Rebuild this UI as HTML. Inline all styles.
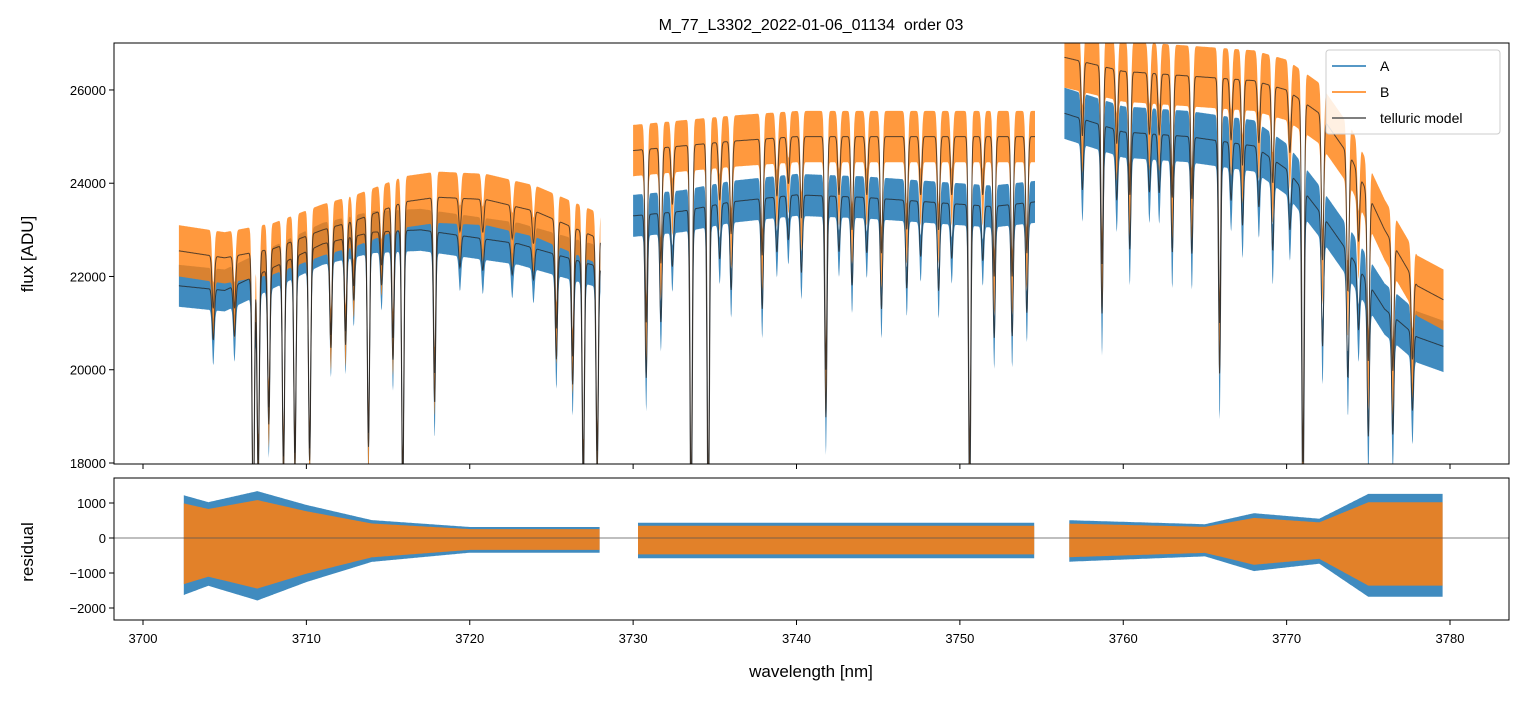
<!DOCTYPE html>
<html><head><meta charset="utf-8"><style>
body{margin:0;background:#fff;font-family:"Liberation Sans",sans-serif}
svg text{font-family:"Liberation Sans","DejaVu Sans",sans-serif;fill:#000}
</style></head><body>
<svg id="c" width="1523" height="696" xmlns="http://www.w3.org/2000/svg">
<defs>
<clipPath id="ct"><rect x="114" y="43" width="1395" height="421"/></clipPath>
<clipPath id="cb"><rect x="114" y="478" width="1395" height="142"/></clipPath>
</defs>
<rect width="1523" height="696" fill="#fff"/>
<text x="811" y="30" font-size="16" text-anchor="middle" style="white-space:pre">M_77_L3302_2022-01-06_01134  order 03</text>
<g id="topg" clip-path="url(#ct)"></g>
<g id="botg" clip-path="url(#cb)"></g>
<rect x="114" y="43" width="1395" height="421" fill="none" stroke="#000" stroke-width="1"/>
<rect x="114" y="478" width="1395" height="142" fill="none" stroke="#000" stroke-width="1"/>
<g id="ticks"></g>
<text x="811" y="677" font-size="17" text-anchor="middle">wavelength [nm]</text>
<text transform="translate(33,254) rotate(-90)" font-size="17" text-anchor="middle">flux [ADU]</text>
<text transform="translate(33,552) rotate(-90)" font-size="17" text-anchor="middle">residual</text>
<g id="legend">
<rect x="1326" y="50" width="174" height="84" rx="3" fill="#fff" fill-opacity="0.85" stroke="#ccc"/>
<line x1="1332" y1="66" x2="1366" y2="66" stroke="#1f77b4" stroke-width="1.5"/>
<text x="1380" y="71" font-size="14">A</text>
<line x1="1332" y1="92" x2="1366" y2="92" stroke="#ff7f0e" stroke-width="1.5"/>
<text x="1380" y="97" font-size="14">B</text>
<line x1="1332" y1="118" x2="1366" y2="118" stroke="#555" stroke-width="1.5"/>
<text x="1380" y="123" font-size="14">telluric model</text>
</g>
</svg>
<script>
const segments=[[3702.2,3728.0],[3730.0,3754.6],[3756.4,3779.6]];
const contBw=[[3702.2,3705,3708,3711,3713,3716,3718,3721,3724,3726,3728],[3730,3733,3736,3740,3744,3748,3752,3754.6],[3756.4,3760,3764,3768,3770,3772,3774,3776,3778,3779.6]];
const contBv=[[22550,22400,22600,23000,23200,23600,23700,23650,23400,23100,22800],[24700,24800,24900,25000,25000,25000,25000,25000],[26700,26400,26300,26200,26000,25500,24500,23000,21800,21500]];
const contAw=[[3702.2,3705,3708,3711,3714,3717,3720,3723,3726,3728],[3730,3733,3736,3740,3744,3748,3752,3754.6],[3756.4,3760,3764,3768,3770,3772,3774,3776,3778,3779.6]];
const contAv=[[21800,21700,22200,22700,22950,23000,22850,22700,22400,22200],[23300,23400,23600,23750,23700,23600,23500,23600],[25500,25100,25000,24800,24300,23400,22400,21300,20700,20500]];
const lineCenters=[3706.75,3707.05,3707.7,3708.6,3709.3,3710.2,3711.5,3712.4,3713.8,3715.3,3715.9,3717.85,3725.3,3726.3,3726.95,3727.8,
3730.8,3731.7,3733.55,3734.6,3736.0,3737.9,3740.3,3741.8,3743.4,3745.2,3746.75,3748.7,3750.6,3752.1,3753.2,3754.1,
3758.7,3760.4,3763.0,3764.2,3765.9,3767.3,3769.15,3771.0,3772.2,3773.75,3775.0,3776.5,3777.7,
3704.3,3705.6,3712.9,3714.6,3719.4,3720.8,3722.6,3723.9,3732.4,3735.3,3738.8,3739.5,3742.6,3744.3,3747.6,3749.5,3751.4,3757.5,3759.6,3761.6,3762.2,3766.6,3768.3,3770.2,3774.4];
const lineDepths=[0.25,0.2,0.15,0.2,0.2,0.2,0.1,0.1,0.2,0.12,0.25,0.16,0.1,0.12,0.22,0.2,
0.15,0.1,0.3,0.3,0.08,0.1,0.07,0.2,0.08,0.1,0.08,0.08,0.28,0.12,0.12,0.1,
0.16,0.1,0.1,0.1,0.2,0.07,0.08,0.3,0.12,0.12,0.15,0.12,0.08,
0.05,0.05,0.06,0.05,0.03,0.03,0.03,0.03,0.05,0.05,0.05,0.04,0.05,0.05,0.05,0.05,0.05,0.06,0.06,0.05,0.05,0.05,0.05,0.05,0.06];
const ampA=[450,450,550];
const ampB=[550,550,650];
const resW=[[3702.2,3704,3707,3710,3714,3720,3728],[3730,3742,3754.6],[3756.4,3765,3768,3772,3775,3779.6]];
const resAmp=[[1600,1300,1700,1200,650,400,400],[550,550,550],[650,500,900,700,1600,1600]];
const xTicks=[3700,3710,3720,3730,3740,3750,3760,3770,3780];
const yTicks=[18000,20000,22000,24000,26000];
const rTicks=[-2000,-1000,0,1000];

const X=w=>143+(w-3700)*16.3375;
const Y=v=>463-(v-18000)*0.04663;
const R=v=>538-v*0.035;
const NS='http://www.w3.org/2000/svg';
function interp(ws,vs,w){if(w<=ws[0])return vs[0];for(let i=1;i<ws.length;i++){if(w<=ws[i]){const t=(w-ws[i-1])/(ws[i]-ws[i-1]);return vs[i-1]+t*(vs[i]-vs[i-1]);}}return vs[vs.length-1];}
function fac(w){let f=1;for(let i=0;i<lineCenters.length;i++){const d=(w-lineCenters[i])/0.07;if(Math.abs(d)<6)f-=lineDepths[i]*Math.exp(-d*d/2);}return f;}
function mk(tag,attrs,parent){const e=document.createElementNS(NS,tag);for(const k in attrs)e.setAttribute(k,attrs[k]);parent.appendChild(e);return e;}
const topG=document.getElementById('topg'),botG=document.getElementById('botg'),tk=document.getElementById('ticks');
function band(parent,s,contW,contV,amp,color,op,name){
 const [a,b]=segments[s];const up=[],lo=[];
 for(let w=a;w<=b;w+=0.02){const f=fac(w);const m=interp(contW[s],contV[s],w)*f;up.push(X(w).toFixed(1)+','+Y(m+amp).toFixed(1));lo.push(X(w).toFixed(1)+','+Y(m-amp*(1+(1-f)*4)).toFixed(1));}
 const p=mk('polygon',{points:up.concat(lo.reverse()).join(' '),fill:color,'fill-opacity':op},parent);
 
 
}
function model(parent,s,contW,contV,name){
 const [a,b]=segments[s];const pts=[];
 for(let w=a;w<=b;w+=0.02){pts.push(X(w).toFixed(1)+','+Y(interp(contW[s],contV[s],w)*fac(w)).toFixed(1));}
 const p=mk('polyline',{points:pts.join(' '),fill:'none',stroke:'#222','stroke-opacity':0.75,'stroke-width':1},parent);
 
 
}
for(let s=0;s<3;s++){band(topG,s,contAw,contAv,ampA[s],'#1f77b4',0.85,'series-a-seg'+s);}
for(let s=0;s<3;s++){band(topG,s,contBw,contBv,ampB[s],'#ff7f0e',0.8,'series-b-seg'+s);}
for(let s=0;s<3;s++){model(topG,s,contBw,contBv,'telluric-model-b-seg'+s);model(topG,s,contAw,contAv,'telluric-model-a-seg'+s);}
function rband(s,color,op,scale,name){
 const [a,b]=segments[s];const up=[],lo=[];
 for(let w=a+0.3;w<=b;w+=0.05){const am=interp(resW[s],resAmp[s],w)*scale;up.push(X(w).toFixed(1)+','+R(am*0.75).toFixed(1));lo.push(X(w).toFixed(1)+','+R(-am).toFixed(1));}
 const p=mk('polygon',{points:up.concat(lo.reverse()).join(' '),fill:color,'fill-opacity':op},botG);
 
 
}
for(let s=0;s<3;s++)rband(s,'#1f77b4',0.85,1.05,'residual-a-seg'+s);
for(let s=0;s<3;s++)rband(s,'#ff7f0e',0.85,0.85,'residual-b-seg'+s);
const zl=mk('line',{x1:114,x2:1509,y1:R(0),y2:R(0),stroke:'#555','stroke-width':0.8},botG);


xTicks.forEach(t=>{const x=X(t);
 mk('line',{x1:x,x2:x,y1:464,y2:469,stroke:'#000'},tk);
 mk('line',{x1:x,x2:x,y1:620,y2:625,stroke:'#000'},tk);
 const l=mk('text',{x:x,y:643,'font-size':13,'text-anchor':'middle'},tk);l.textContent=t;
 
 });
yTicks.forEach(t=>{const y=Y(t);
 mk('line',{x1:109,x2:114,y1:y,y2:y,stroke:'#000'},tk);
 const l=mk('text',{x:106,y:y+5,'font-size':13,'text-anchor':'end'},tk);l.textContent=t;
 
 });
rTicks.forEach(t=>{const y=R(t);
 mk('line',{x1:109,x2:114,y1:y,y2:y,stroke:'#000'},tk);
 const l=mk('text',{x:106,y:y+5,'font-size':13,'text-anchor':'end'},tk);l.textContent=t===0?'0':(t<0?'\u2212'+(-t):t);
 
 });
</script>
</body></html>
